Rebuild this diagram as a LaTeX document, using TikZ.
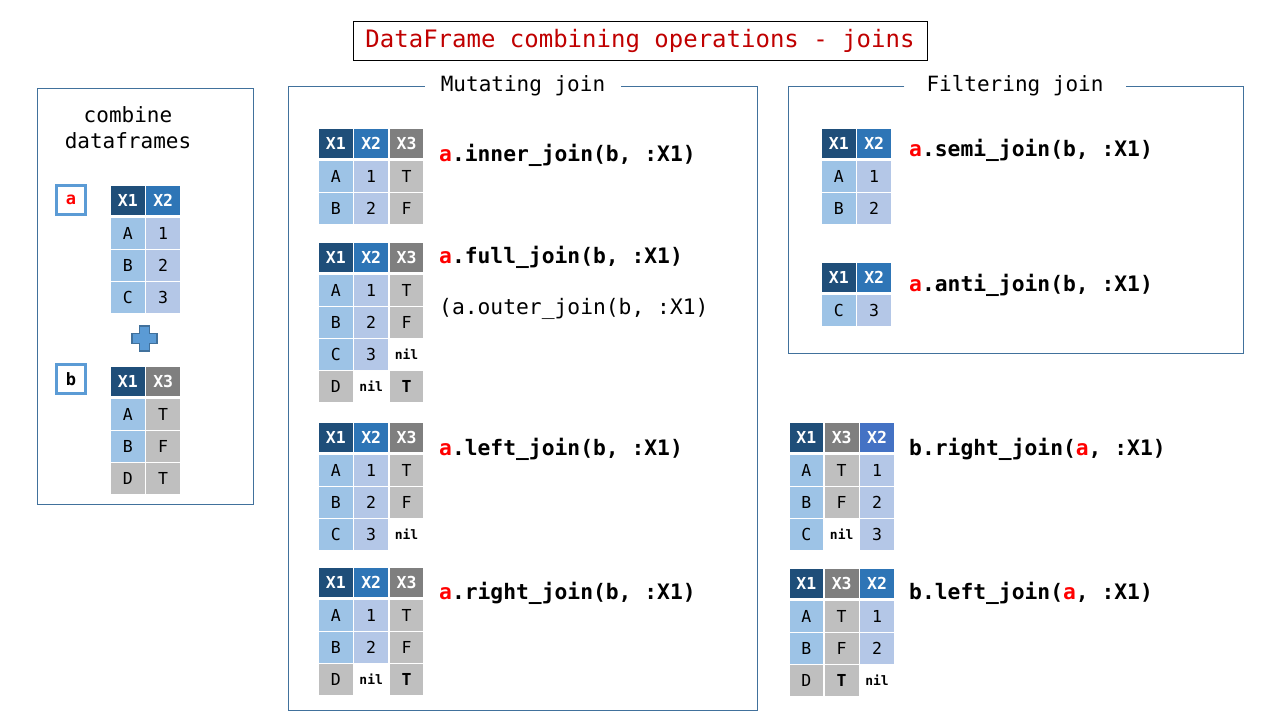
\documentclass[tikz,border=0pt]{standalone}
\usepackage{fontspec}
\setmainfont{DejaVu Sans Mono}
\newcommand\fsz[1]{\fontsize{#1}{#1}\selectfont}
\definecolor{hone}{HTML}{1F4E79}
\definecolor{htwo}{HTML}{2E75B6}
\definecolor{htwob}{HTML}{4472C4}
\definecolor{hthree}{HTML}{7F7F7F}
\definecolor{done}{HTML}{9DC3E6}
\definecolor{dtwo}{HTML}{B4C7E7}
\definecolor{dgray}{HTML}{BFBFBF}
\definecolor{panelc}{HTML}{41719C}
\definecolor{lblc}{HTML}{5B9BD5}
\definecolor{titlered}{HTML}{C00000}
\tikzset{
  cellbase/.style={draw=white, line width=1.5pt, minimum width=35.3pt, minimum height=32pt,
    inner sep=0pt, anchor=north west, font=\fsz{16.5}},
  hdrcell/.style={cellbase, minimum height=31pt, text=white, font=\fsz{16.5}\bfseries},
  d1/.style={fill=done},
  d2/.style={fill=dtwo},
  dg/.style={fill=dgray},
  nilc/.style={fill=white, font=\fsz{13}\bfseries},
  bt/.style={font=\fsz{16.5}\bfseries},
  code/.style={anchor=west, inner sep=0pt, font=\fsz{21.3}\bfseries},
  codeplain/.style={anchor=west, inner sep=0pt, font=\fsz{21.3}},
  panel/.style={draw=panelc, line width=1pt},
  ptitle/.style={font=\fsz{21}, inner ysep=0pt},
  lbl/.style={draw=lblc, line width=3pt, minimum size=29pt, inner sep=0pt, font=\fsz{17}\bfseries},
}
\newcommand\Hd[4]{\node[hdrcell,fill=#3] (#1) at ({#2*35.3},0) {#4};}
\newcommand\Dc[5]{\node[cellbase,#4] (#1) at ({#2*35.3},{32.5+(#3-1)*32}) {#5};}
\begin{document}
\begin{tikzpicture}[x=1pt,y=-1pt]
\useasboundingbox (0,0) rectangle (1280,720);
\fill[white] (0,0) rectangle (1280,720);

% title
\node[draw=black, line width=1pt, minimum width=574pt, minimum height=39pt, text=titlered, font=\fsz{24}] (title) at (640,40.5) {DataFrame combining operations - joins};

% left panel
\draw[panel] (37,88) rectangle (253,504);
\node[font=\fsz{21}, align=center, inner sep=0pt] (comb) at (128,128) {combine\\[5pt]dataframes};
\node[lbl, text=red] (la) at (71,199.5) {a};
\node[lbl] (lb) at (71,379) {b};
\begin{scope}[shift={(109.5,184)}]
  \Hd{a1}{0}{hone}{X1} \Hd{a2}{1}{htwo}{X2}
  \Dc{a11}{0}{1}{d1}{A} \Dc{a21}{1}{1}{d2}{1}
  \Dc{a12}{0}{2}{d1}{B} \Dc{a22}{1}{2}{d2}{2}
  \Dc{a13}{0}{3}{d1}{C} \Dc{a23}{1}{3}{d2}{3}
\end{scope}
\draw[fill=lblc, draw=panelc, line width=1.5pt] (139.5,326) -- (149.5,326) -- (149.5,333.5) -- (157,333.5) -- (157,343.5) -- (149.5,343.5) -- (149.5,351) -- (139.5,351) -- (139.5,343.5) -- (132,343.5) -- (132,333.5) -- (139.5,333.5) -- cycle;
\begin{scope}[shift={(109.5,365)}]
  \Hd{b1}{0}{hone}{X1} \Hd{b3}{1}{hthree}{X3}
  \Dc{b11}{0}{1}{d1}{A} \Dc{b31}{1}{1}{dg}{T}
  \Dc{b12}{0}{2}{d1}{B} \Dc{b32}{1}{2}{dg}{F}
  \Dc{b13}{0}{3}{dg}{D} \Dc{b33}{1}{3}{dg}{T}
\end{scope}

% mutating panel
\node[ptitle, inner xsep=16pt] (mt) at (523,86) {Mutating join};
\draw[panel] (mt.west) -- (288,86) -- (288,710) -- (757,710) -- (757,86) -- (mt.east);

\begin{scope}[shift={(317.5,127)}]
  \Hd{i1}{0}{hone}{X1} \Hd{i2}{1}{htwo}{X2} \Hd{i3}{2}{hthree}{X3}
  \Dc{i11}{0}{1}{d1}{A} \Dc{i21}{1}{1}{d2}{1} \Dc{i31}{2}{1}{dg}{T}
  \Dc{i12}{0}{2}{d1}{B} \Dc{i22}{1}{2}{d2}{2} \Dc{i32}{2}{2}{dg}{F}
\end{scope}
\node[code] (ci) at (439,155) {\textcolor{red}{a}.inner\_join(b, :X1)};

\begin{scope}[shift={(317.5,241)}]
  \Hd{f1}{0}{hone}{X1} \Hd{f2}{1}{htwo}{X2} \Hd{f3}{2}{hthree}{X3}
  \Dc{f11}{0}{1}{d1}{A} \Dc{f21}{1}{1}{d2}{1} \Dc{f31}{2}{1}{dg}{T}
  \Dc{f12}{0}{2}{d1}{B} \Dc{f22}{1}{2}{d2}{2} \Dc{f32}{2}{2}{dg}{F}
  \Dc{f13}{0}{3}{d1}{C} \Dc{f23}{1}{3}{d2}{3} \Dc{f33}{2}{3}{nilc}{nil}
  \Dc{f14}{0}{4}{dg}{D} \Dc{f24}{1}{4}{nilc}{nil} \Dc{f34}{2}{4}{dg,bt}{T}
\end{scope}
\node[code] (cf) at (439,257) {\textcolor{red}{a}.full\_join(b, :X1)};
\node[codeplain] (co) at (439,309) {(a.outer\_join(b, :X1)};

\begin{scope}[shift={(317.5,421)}]
  \Hd{l1}{0}{hone}{X1} \Hd{l2}{1}{htwo}{X2} \Hd{l3}{2}{hthree}{X3}
  \Dc{l11}{0}{1}{d1}{A} \Dc{l21}{1}{1}{d2}{1} \Dc{l31}{2}{1}{dg}{T}
  \Dc{l12}{0}{2}{d1}{B} \Dc{l22}{1}{2}{d2}{2} \Dc{l32}{2}{2}{dg}{F}
  \Dc{l13}{0}{3}{d1}{C} \Dc{l23}{1}{3}{d2}{3} \Dc{l33}{2}{3}{nilc}{nil}
\end{scope}
\node[code] (cl) at (439,449) {\textcolor{red}{a}.left\_join(b, :X1)};

\begin{scope}[shift={(317.5,566)}]
  \Hd{r1}{0}{hone}{X1} \Hd{r2}{1}{htwo}{X2} \Hd{r3}{2}{hthree}{X3}
  \Dc{r11}{0}{1}{d1}{A} \Dc{r21}{1}{1}{d2}{1} \Dc{r31}{2}{1}{dg}{T}
  \Dc{r12}{0}{2}{d1}{B} \Dc{r22}{1}{2}{d2}{2} \Dc{r32}{2}{2}{dg}{F}
  \Dc{r13}{0}{3}{dg}{D} \Dc{r23}{1}{3}{nilc}{nil} \Dc{r33}{2}{3}{dg,bt}{T}
\end{scope}
\node[code] (cr) at (439,593) {\textcolor{red}{a}.right\_join(b, :X1)};

% filtering panel
\node[ptitle, inner xsep=22pt] (ft) at (1015,86) {Filtering join};
\draw[panel] (ft.west) -- (788,86) -- (788,353) -- (1243,353) -- (1243,86) -- (ft.east);

\begin{scope}[shift={(820.5,127)}]
  \Hd{s1}{0}{hone}{X1} \Hd{s2}{1}{htwo}{X2}
  \Dc{s11}{0}{1}{d1}{A} \Dc{s21}{1}{1}{d2}{1}
  \Dc{s12}{0}{2}{d1}{B} \Dc{s22}{1}{2}{d2}{2}
\end{scope}
\node[code] (cs) at (909,150) {\textcolor{red}{a}.semi\_join(b, :X1)};

\begin{scope}[shift={(820.5,261)}]
  \Hd{n1}{0}{hone}{X1} \Hd{n2}{1}{htwo}{X2}
  \Dc{n11}{0}{1}{d1}{C} \Dc{n21}{1}{1}{d2}{3}
\end{scope}
\node[code] (cn) at (909,285) {\textcolor{red}{a}.anti\_join(b, :X1)};

% right-side tables
\begin{scope}[shift={(788,421)}]
  \Hd{br1}{0}{hone}{X1} \Hd{br3}{1}{hthree}{X3} \Hd{br2}{2}{htwob}{X2}
  \Dc{br11}{0}{1}{d1}{A} \Dc{br31}{1}{1}{dg}{T} \Dc{br21}{2}{1}{d2}{1}
  \Dc{br12}{0}{2}{d1}{B} \Dc{br32}{1}{2}{dg}{F} \Dc{br22}{2}{2}{d2}{2}
  \Dc{br13}{0}{3}{d1}{C} \Dc{br33}{1}{3}{nilc}{nil} \Dc{br23}{2}{3}{d2}{3}
\end{scope}
\node[code] (cbr) at (909,449) {b.right\_join(\textcolor{red}{a}, :X1)};

\begin{scope}[shift={(788,567)}]
  \Hd{bl1}{0}{hone}{X1} \Hd{bl3}{1}{hthree}{X3} \Hd{bl2}{2}{htwo}{X2}
  \Dc{bl11}{0}{1}{d1}{A} \Dc{bl31}{1}{1}{dg}{T} \Dc{bl21}{2}{1}{d2}{1}
  \Dc{bl12}{0}{2}{d1}{B} \Dc{bl32}{1}{2}{dg}{F} \Dc{bl22}{2}{2}{d2}{2}
  \Dc{bl13}{0}{3}{dg}{D} \Dc{bl33}{1}{3}{dg,bt}{T} \Dc{bl23}{2}{3}{nilc}{nil}
\end{scope}
\node[code] (cbl) at (909,593) {b.left\_join(\textcolor{red}{a}, :X1)};
\end{tikzpicture}
\end{document}
